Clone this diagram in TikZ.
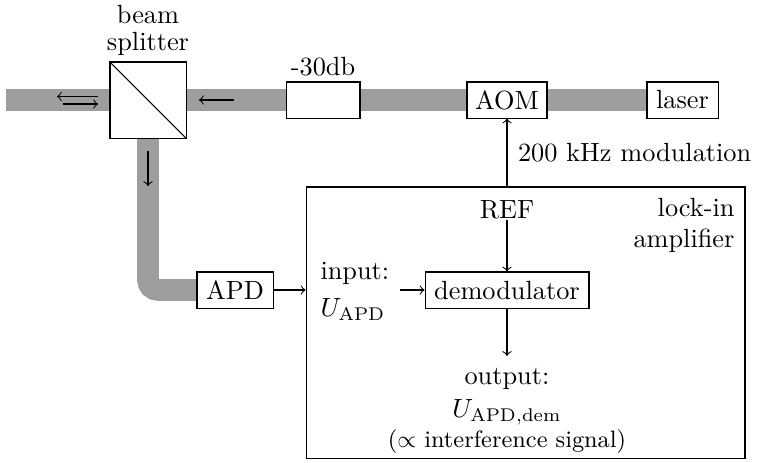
\documentclass[tikz,border=0pt]{standalone}
\usepackage{amsmath}
\usetikzlibrary{backgrounds}
\begin{document}
\begin{tikzpicture}[x=0.38pt,y=-0.38pt,
  box/.style={draw, line width=0.4pt, fill=white, inner sep=0pt, minimum height=13.7pt},
  beam/.style={line width=8.2pt, draw=black!38},
  sig/.style={->, line width=0.4pt},
  lbl/.style={inner sep=0pt, align=center}]
\useasboundingbox (0,0) rectangle (761,462);
% optical components
\node[box, minimum width=28.9pt, minimum height=28.9pt] (bs) at (148,100) {};
\draw[line width=0.4pt] (bs.north west) -- (bs.south east);
\node[lbl, anchor=north] (bslbl) at (148,5) {beam\\[-2pt]splitter};
\node[lbl, anchor=south] (attlbl) at (323,77) {-30db};
\node[box, minimum width=28.1pt] (att) at (323,100) {};
\node[box, minimum width=30.4pt] (aom) at (507,100) {AOM};
\node[box, minimum width=27pt] (laser) at (682.5,100) {laser};
\node[box, minimum width=28.9pt] (apd) at (235,290) {APD};
\coordinate (leftend) at (6,100);
% beams
\begin{scope}[on background layer]
\draw[beam] (leftend) -- (laser.west);
\draw[beam, rounded corners=3.8pt] (bs.south) |- (apd.west);
\end{scope}
% beam direction arrows
\coordinate (la1) at (98,96.5);  \coordinate (la2) at (57,96.5);
\coordinate (lb1) at (63,104);  \coordinate (lb2) at (98,104);
\draw[sig] (la1) -- (la2);
\draw[sig] (lb1) -- (lb2);
\coordinate (ra1) at (234,100); \coordinate (ra2) at (199,100);
\draw[sig] (ra1) -- (ra2);
\coordinate (da1) at (148,151); \coordinate (da2) at (148,186);
\draw[sig] (da1) -- (da2);
% lock-in amplifier
\node[draw, line width=0.4pt, minimum width=166.8pt, minimum height=103pt, inner sep=0pt] (lia) at (525.5,322.5) {};
\node[lbl, anchor=north east, align=right] (lialbl) at (735,198) {lock-in\\[-0.5pt]amplifier};
\node[lbl] (ref) at (507,210) {REF};
\node[box, minimum width=62.3pt] (demod) at (507,290) {demodulator};
\node[lbl, anchor=west, align=left] (inp) at (320,291) {input:\\[2pt]$U_\mathrm{APD}$};
\coordinate (inpout) at (400,290);
\node[lbl, anchor=north] (outp) at (507,368) {output:\\[0.5pt]$U_\mathrm{APD,dem}$\\[-0.5pt]{\small($\propto$ interference signal)}};
\draw[sig] (apd.east) -- (apd.east -| lia.west);
\draw[sig] (lia.north -| aom.south) -- node[right, inner sep=4pt, pos=0.5] {200 kHz modulation} (aom.south);
\draw[sig] (ref.south) -- (demod.north);
\draw[sig] (inpout) -- (demod.west);
\draw[sig, shorten >=4.6pt] (demod.south) -- (outp.north);
\end{tikzpicture}
\end{document}
